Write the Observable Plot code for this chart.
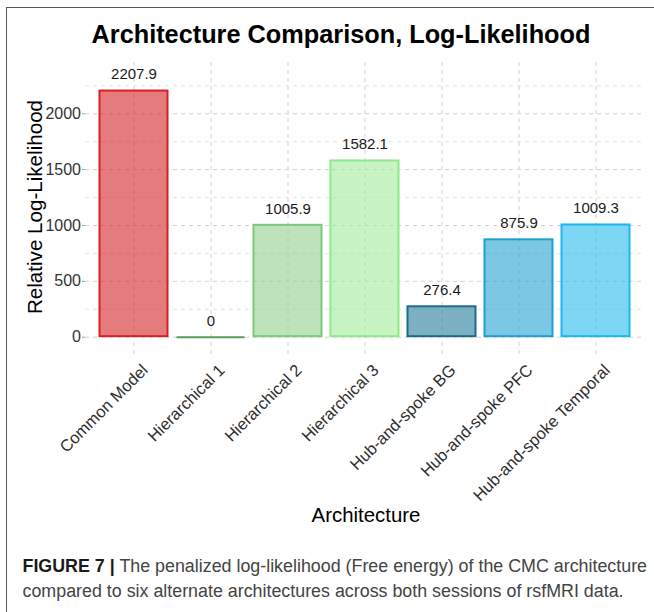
<!DOCTYPE html>
<html>
<head>
<meta charset="utf-8">
<script src="https://cdn.jsdelivr.net/npm/d3@7"></script>
<script src="https://cdn.jsdelivr.net/npm/@observablehq/plot@0.6"></script>
<style>
  body { margin: 0; background: #fff; font-family: "Liberation Sans", Arial, Helvetica, sans-serif; }
  #fig { position: relative; width: 654px; height: 612px; overflow: hidden; background: #fff; }
  #frame { position: absolute; left: 6px; top: 6.5px; width: 700px; height: 700px;
           border-top: 1.5px solid #555; border-left: 1.5px solid #555; }
  #chart { position: absolute; left: 0; top: 0; }
  #title { position: absolute; left: 0; width: 682px; top: 21.9px; text-align: center;
           font-weight: bold; font-size: 25.3px; line-height: 25.3px; color: #000; white-space: nowrap; }
  #ytitle { position: absolute; left: 35px; top: 207px; transform: translate(-50%, -50%) rotate(-90deg);
            font-size: 20.6px; line-height: 20.6px; color: #000; white-space: nowrap; }
  #xtitle { position: absolute; left: 266px; width: 200px; top: 505.2px; text-align: center;
            font-size: 20.4px; line-height: 20.4px; color: #000; white-space: nowrap; }
  #caption { position: absolute; left: 22.5px; top: 554.2px; font-size: 17.85px; line-height: 25px;
             color: #444; white-space: nowrap; }
  #caption b { color: #1a1a1a; }
</style>
</head>
<body>
<div id="fig">
  <div id="chart"></div>
  <div id="frame"></div>
  <div id="title">Architecture Comparison, Log-Likelihood</div>
  <div id="ytitle">Relative Log-Likelihood</div>
  <div id="xtitle">Architecture</div>
  <div id="caption"><b>FIGURE 7 |</b> The penalized log-likelihood (Free energy) of the CMC architecture<br>compared to six alternate architectures across both sessions of rsfMRI data.</div>
</div>
<script>
// Model architectures and their relative log-likelihood
const architectures = [
  "Common Model", "Hierarchical 1", "Hierarchical 2", "Hierarchical 3",
  "Hub-and-spoke BG", "Hub-and-spoke PFC", "Hub-and-spoke Temporal"
];
const logLikelihood = [2207.9, 0, 1005.9, 1582.1, 276.4, 875.9, 1009.3];

// Bar fill (drawn translucent) and outline colours per architecture
const fillColors   = ["#d22326", "#3f8f3f", "#93cf8c", "#a3ed9d", "#287b9d", "#25a3d2", "#25bbed"];
const strokeColors = ["#dd1c24", "#5b9a5b", "#7cc97a", "#8ee88c", "#1b6c8c", "#1ca0d0", "#1bb8f0"];

// Axis ticks
const yTicks = [0, 500, 1000, 1500, 2000];
const yMinorTicks = [250, 750, 1250, 1750, 2250];

const rows = architectures.map((arch, i) => ({
  arch,
  value: logLikelihood[i],
  fill: fillColors[i],
  stroke: strokeColors[i]
}));

const valueLabel = d => d.value === 0 ? "0" : d.value.toFixed(1);
const dashed = {strokeOpacity: 1, strokeDasharray: "4,4"};

const chart = Plot.plot({
  width: 654,
  height: 612,
  marginLeft: 85,
  marginRight: 9,
  marginTop: 62,
  marginBottom: 257,
  style: {fontFamily: "'Liberation Sans', Arial, Helvetica, sans-serif", background: "transparent"},
  color: {type: "identity"},
  x: {domain: architectures, paddingInner: 0.1, paddingOuter: 0.15},
  y: {domain: [-164, 2459]},
  marks: [
    Plot.gridY(yMinorTicks, {stroke: "#e4e4e4", ...dashed}),
    Plot.gridY(yTicks, {stroke: "#d2d2d2", ...dashed}),
    Plot.gridX({stroke: "#d2d2d2", ...dashed}),
    Plot.barY(rows, {x: "arch", y: "value", fill: "fill", fillOpacity: 0.6,
                     stroke: "stroke", strokeWidth: 2, inset: 0.5}),
    // a zero-height bar still shows as its outline
    Plot.tickY(rows.filter(d => d.value === 0), {x: "arch", y: "value", stroke: "stroke",
                     strokeWidth: 2, inset: 0.5}),
    Plot.text(rows, {x: "arch", y: "value", text: valueLabel, dy: -16,
                     fontSize: 15, fill: "#1a1a1a"}),
    Plot.axisY(yTicks, {tickSize: 3, tickPadding: 1.5, stroke: "#a0a0a0", fill: "#333",
                        fontSize: 16, tickFormat: d => String(d), label: null}),
    Plot.axisX({tickSize: 0, tickPadding: 0, tickRotate: -45, fontSize: 16.5, fill: "#2e2e2e",
                dx: 11, dy: 12, label: null})
  ]
});

document.getElementById("chart").appendChild(chart);
</script>
</body>
</html>
